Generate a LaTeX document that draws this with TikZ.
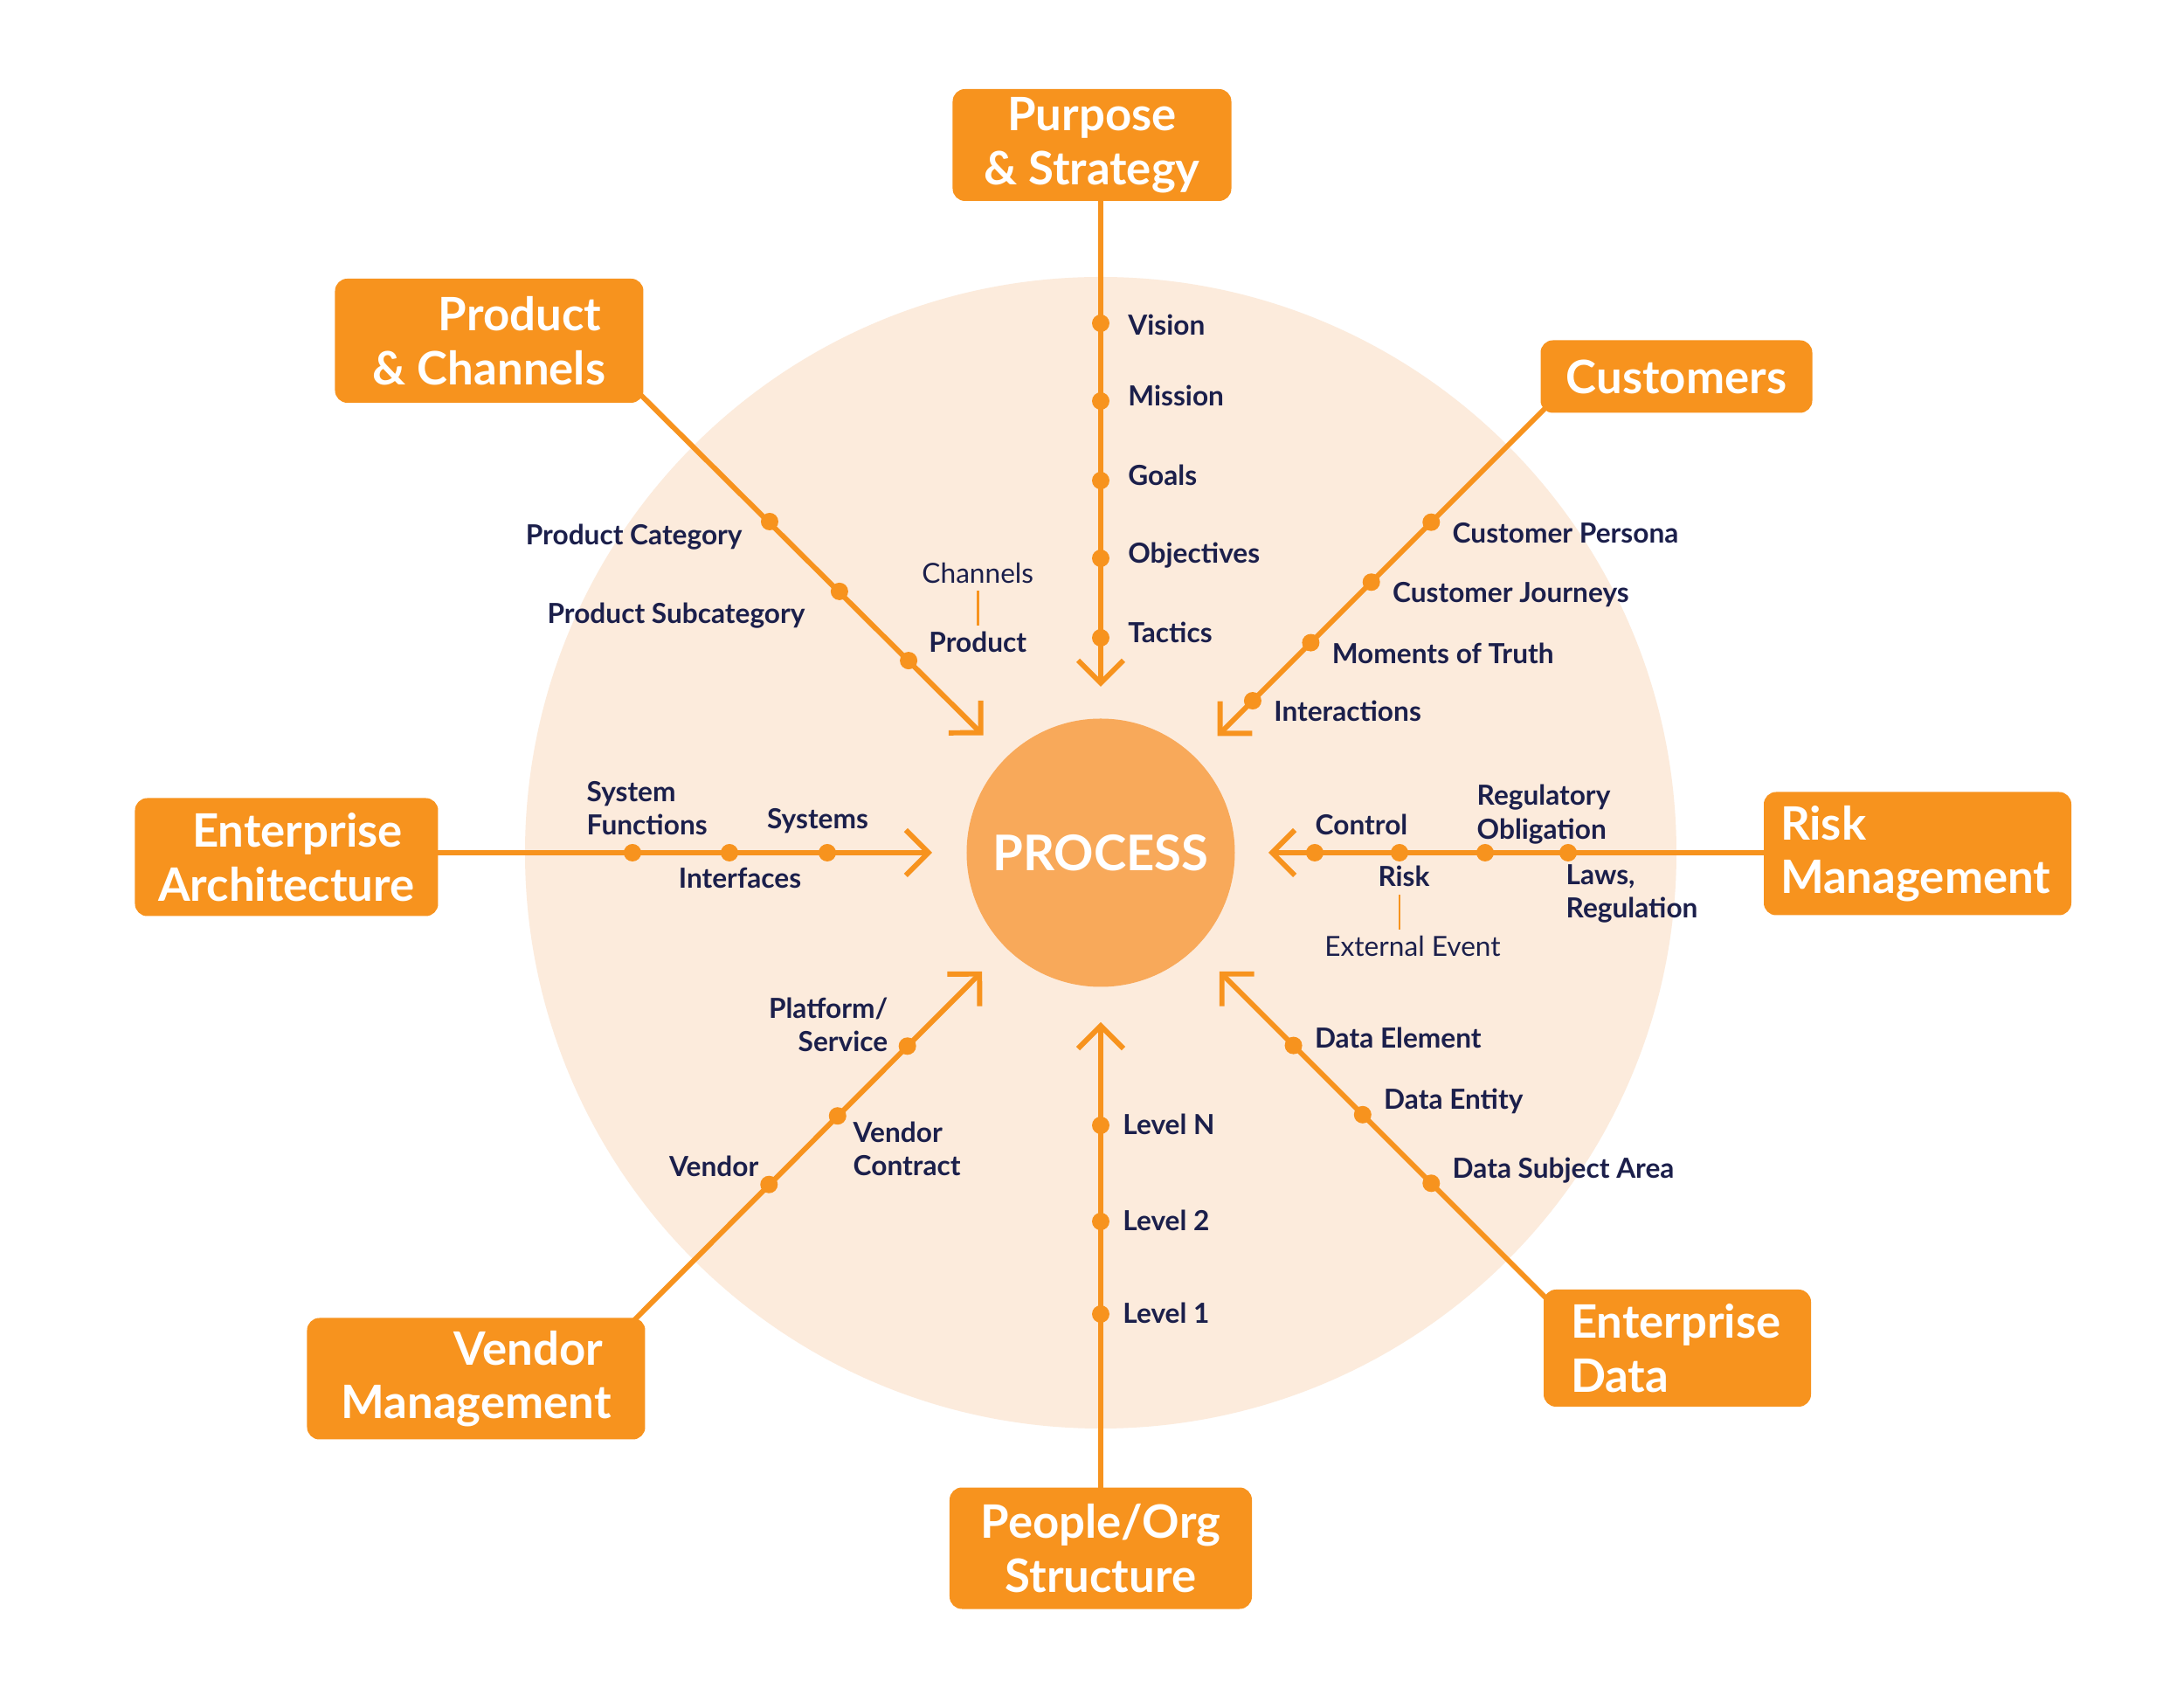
\documentclass[tikz,border=0pt]{standalone}
\usepackage{fontspec}
\setmainfont{Lato}
\usepackage{xcolor}
\usepackage{tikz}
\usetikzlibrary{arrows.meta, positioning, calc, backgrounds}
\definecolor{procorange}{HTML}{F7931E}
\definecolor{procpeach}{HTML}{FCEBDC}
\definecolor{proccore}{HTML}{F8A95A}
\definecolor{procnavy}{HTML}{1B1F4B}

\tikzset{
  hub/.style={fill=procorange, text=white, rounded corners=4pt, inner sep=0pt, align=center,
    font=\fontsize{15}{17.5}\selectfont\bfseries},
  spoke/.style={draw=procorange, line width=1.7pt, shorten <=-2mm,
    -{Straight Barb[length=2.6mm, width=5.2mm]}},
  dot/.style={circle, fill=procorange, inner sep=0pt, minimum size=2mm},
  lbl/.style={text=procnavy, inner sep=0pt, text height=7pt, text depth=1pt,
    font=\fontsize{9}{11}\selectfont\bfseries},
  mlbl/.style={text=procnavy, inner sep=0pt, font=\fontsize{9}{11}\selectfont\bfseries},
  note/.style={lbl, font=\fontsize{9}{11}\selectfont},
  tick/.style={draw=procorange, line width=0.7pt, shorten <=.5mm, shorten >=.5mm},
}

\begin{document}
\begin{tikzpicture}
\useasboundingbox (-12.60,-9.56) rectangle (12.40,9.76);

% centre
\node[circle, fill=proccore, inner sep=0pt, minimum size=3.07cm, text=white,
  font=\fontsize{16}{19}\selectfont\bfseries] (process) at (0,0) {PROCESS};

% the eight areas
\node[hub, minimum width=3.19cm, minimum height=1.28cm] (purpose) at (-0.10,8.10) {Purpose\\\& Strategy};
\node[hub, minimum width=3.53cm, minimum height=1.42cm] (product) at (-7.00,5.86) {\hspace*{0.7cm}Product\\\& Channels};
\node[hub, minimum width=3.11cm, minimum height=0.83cm] (customers) at (6.59,5.45) {Customers};
\node[hub, minimum width=3.47cm, minimum height=1.35cm] (entarch) at (-9.32,-0.05) {\hspace*{0.25cm}Enterprise\\Architecture};
\node[hub, text width=3.14cm, align=left, inner xsep=0.19cm, minimum height=1.41cm] (riskmgmt) at (9.35,-0.01) {Risk\\Management};
\node[hub, text width=2.44cm, align=left, inner xsep=0.31cm, minimum height=1.34cm] (entdata) at (6.60,-5.67) {Enterprise\\Data};
\node[hub, minimum width=3.46cm, minimum height=1.39cm] (people) at (0,-7.96) {People/Org\\Structure};
\node[hub, minimum width=3.87cm, minimum height=1.39cm] (vendor) at (-7.15,-6.02) {\hspace*{1.2cm}Vendor\\Management};

% arrow tips round the centre
\coordinate (pstip) at (90:1.9);
\coordinate (pctip) at (135:1.9);
\coordinate (cutip) at (45:1.89);
\coordinate (eatip) at (180:1.93);
\coordinate (rmtip) at (0:1.92);
\coordinate (edtip) at (-45:1.92);
\coordinate (potip) at (-90:1.94);
\coordinate (vmtip) at (-135:1.92);

\begin{scope}[on background layer]
  \fill[white] (-12.60,-9.56) rectangle (12.40,9.76);
  \fill[procpeach] (0,0) circle (6.59);
  \draw[spoke] (purpose.south -| pstip) -- (pstip);
  \draw[spoke] ([yshift=0.6mm]product.south east) -- (pctip);
  \draw[spoke] (customers.south west) -- (cutip);
  \draw[spoke] (entarch.east |- eatip) -- (eatip);
  \draw[spoke] (riskmgmt.west |- rmtip) -- (rmtip);
  \draw[spoke] ([yshift=-0.7mm]entdata.north west) -- (edtip);
  \draw[spoke] (people.north) -- (potip);
  \draw[spoke] ([xshift=-1mm]vendor.north east) -- (vmtip);
\end{scope}

% purpose & strategy
\foreach \r/\t/\dy [count=\i] in {6.06/Vision/-0.3, 5.17/Mission/0.5, 4.26/Goals/0.5, 3.37/Objectives/0.5, 2.46/Tactics/0.5} {
  \node[dot] (ps\i) at (90:\r) {};
  \node[lbl, right=2mm of ps\i, yshift=\dy mm] (psl\i) {\t};
}

% customers
\foreach \r/\t [count=\i] in {5.35/Customer Persona, 4.38/Customer Journeys, 3.40/Moments of Truth, 2.46/Interactions} {
  \node[dot] (cu\i) at (45:\r) {};
  \node[lbl, right=1.3mm of cu\i, yshift=-1.3mm] (cul\i) {\t};
}

% people / org
\foreach \r/\t [count=\i] in {3.12/Level N, 4.22/Level 2, 5.28/Level 1} {
  \node[dot] (po\i) at (-90:\r) {};
  \node[lbl, right=1.4mm of po\i] (pol\i) {\t};
}

% enterprise data
\foreach \r/\t/\dy [count=\i] in {3.12/Data Element/0.8, 4.24/Data Entity/1.7, 5.35/Data Subject Area/1.6} {
  \node[dot] (ed\i) at (-45:\r) {};
  \node[lbl, right=1.3mm of ed\i, yshift=\dy mm] (edl\i) {\t};
}

% product & channels
\foreach \r [count=\i] in {5.36, 4.23, 3.11}
  \node[dot] (pc\i) at (135:\r) {};
\node[lbl, left=2mm of pc1, yshift=-1.6mm] (pcl1) {Product Category};
\node[lbl, left=2.8mm of pc2, yshift=-2.6mm] (pcl2) {Product Subcategory};
\node[lbl, right=1.2mm of pc3, yshift=2mm] (pcl3) {Product};
\node[note, above=5mm of pcl3] (pcnote) {Channels};
\draw[tick] (pcnote.south) -- (pcl3.north);

% enterprise architecture
\foreach \r [count=\i] in {5.36, 4.25, 3.13}
  \node[dot] (ea\i) at (180:\r) {};
\node[mlbl, align=left, anchor=west] (eal1) at (-5.89,0.51) {System\\Functions};
\node[lbl, below=0.5mm of ea2, xshift=1.2mm] (eal2) {Interfaces};
\node[lbl, above=1.3mm of ea3, xshift=-1.1mm] (eal3) {Systems};

% risk management
\foreach \r [count=\i] in {2.45, 3.42, 4.40, 5.35}
  \node[dot] (rm\i) at (0:\r) {};
\node[lbl, above=0.6mm of rm1, anchor=south west] (rml1) {Control};
\node[lbl, below=0.3mm of rm2, xshift=0.5mm] (rml2) {Risk};
\node[mlbl, align=left, anchor=west] (rml3) at (4.30,0.44) {Regulatory\\Obligation};
\node[mlbl, align=left, anchor=west] (rml4) at (5.32,-0.47) {Laws,\\Regulation};
\node[note, below=5mm of rml2, xshift=1mm] (rmnote) {External Event};
\draw[tick] (rml2.south -| rm2) -- (rmnote.north -| rm2);

% vendor management
\foreach \r [count=\i] in {5.37, 4.26, 3.13}
  \node[dot] (vm\i) at (-135:\r) {};
\node[lbl, anchor=east] (vml1) at (-3.91,-3.60) {Vendor};
\node[mlbl, align=left, anchor=west] (vml2) at (-2.84,-3.39) {Vendor\\Contract};
\node[mlbl, align=right, anchor=east] (vml3) at (-2.43,-1.97) {Platform/\\Service};
\end{tikzpicture}
\end{document}
